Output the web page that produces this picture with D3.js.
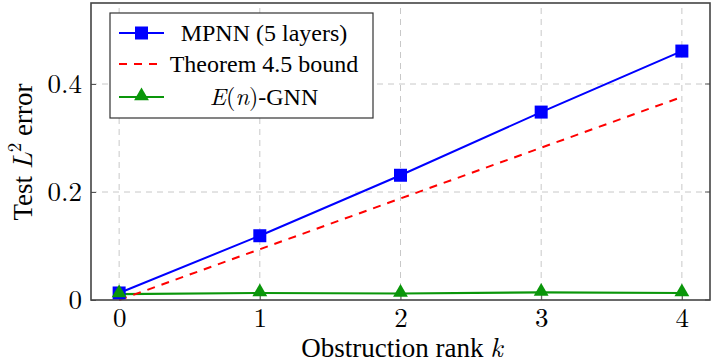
<!DOCTYPE html>
<html>
<head>
<meta charset="utf-8">
<script src="https://cdn.jsdelivr.net/npm/d3@7"></script>
<style>
  body { margin: 0; background: #fff; }
  text { font-family: "Liberation Serif", "Times New Roman", serif; fill: #000; }
  .cm { font-family: "Latin Modern Roman", "Liberation Serif", serif; }
</style>
</head>
<body>
<svg id="chart"></svg>
<script>
const width = 711, height = 364;

// data
const ranks = [0, 1, 2, 3, 4];
const mpnn = [0.013, 0.119, 0.231, 0.348, 0.461];
const bound = [0.0, 0.094, 0.188, 0.282, 0.376];
const egnn = [0.011, 0.013, 0.012, 0.014, 0.013];
const yTicks = [0, 0.2, 0.4];
const legendLabels = ["MPNN (5 layers)", "Theorem 4.5 bound", "E(n)-GNN"];

const margin = {top: 3, right: 1, bottom: 64, left: 91};

const svg = d3.select("#chart")
  .attr("width", width)
  .attr("height", height);

const x = d3.scaleLinear().domain([-0.2, 4.2]).range([margin.left, width - margin.right]);
const y = d3.scaleLinear().domain([0, 0.55]).range([height - margin.bottom, margin.top]);

// grid
svg.append("g")
  .selectAll("line.vg")
  .data(ranks)
  .enter().append("line")
  .attr("x1", d => x(d)).attr("x2", d => x(d))
  .attr("y1", y(0)).attr("y2", y(0.55))
  .attr("stroke", "#c8c8c8").attr("stroke-width", 1)
  .attr("stroke-dasharray", "6,5");

svg.append("g")
  .selectAll("line.hg")
  .data(yTicks.slice(1))
  .enter().append("line")
  .attr("x1", x(-0.2)).attr("x2", x(4.2))
  .attr("y1", d => y(d)).attr("y2", d => y(d))
  .attr("stroke", "#c8c8c8").attr("stroke-width", 1)
  .attr("stroke-dasharray", "6,5");

// axes (ticks inward, labels outside)
const xAxis = svg.append("g")
  .attr("transform", `translate(0, ${y(0)})`)
  .call(d3.axisBottom(x).tickValues(ranks).tickSize(-5).tickFormat(d3.format("d")));
xAxis.select(".domain").remove();
xAxis.selectAll(".tick line").attr("stroke", "#555");
xAxis.selectAll("text").attr("class", "cm").style("font-size", "27px").attr("y", 27).attr("dy", 0);

const yAxis = svg.append("g")
  .attr("transform", `translate(${x(-0.2)}, 0)`)
  .call(d3.axisLeft(y).tickValues(yTicks).tickSize(-5).tickFormat(d => d === 0 ? "0" : d3.format(".1f")(d)));
yAxis.select(".domain").remove();
yAxis.selectAll(".tick line").attr("stroke", "#555");
yAxis.selectAll("text").attr("class", "cm").style("font-size", "27px").attr("x", -9).attr("dy", "0.33em");

// right side ticks
svg.append("g")
  .selectAll("line")
  .data(yTicks)
  .enter().append("line")
  .attr("x1", x(4.2)).attr("x2", x(4.2) - 5)
  .attr("y1", d => y(d)).attr("y2", d => y(d))
  .attr("stroke", "#555");

// series
const line = d3.line().x((d, i) => x(ranks[i])).y(d => y(d));

svg.append("path").datum(egnn)
  .attr("d", line).attr("fill", "none")
  .attr("stroke", "#0a960a").attr("stroke-width", 2.2);

svg.append("path").datum(bound)
  .attr("d", line).attr("fill", "none")
  .attr("stroke", "#ff0000").attr("stroke-width", 2)
  .attr("stroke-dasharray", "8,7");

svg.append("path").datum(mpnn)
  .attr("d", line).attr("fill", "none")
  .attr("stroke", "#0000ff").attr("stroke-width", 2);

svg.append("g").selectAll("rect")
  .data(mpnn).enter().append("rect")
  .attr("x", (d, i) => x(ranks[i]) - 6.5)
  .attr("y", d => y(d) - 6.5)
  .attr("width", 13).attr("height", 13)
  .attr("fill", "#0000ff");

const tri = d3.symbol().type(d3.symbolTriangle).size(95);
svg.append("g").selectAll("path")
  .data(egnn).enter().append("path")
  .attr("d", tri)
  .attr("transform", (d, i) => `translate(${x(ranks[i])}, ${y(d) - 1})`)
  .attr("fill", "#0a960a");

// frame
svg.append("rect")
  .attr("x", x(-0.2)).attr("y", y(0.55))
  .attr("width", x(4.2) - x(-0.2)).attr("height", y(0) - y(0.55))
  .attr("fill", "none").attr("stroke", "#444").attr("stroke-width", 1.6);

// legend
const lg = svg.append("g").attr("transform", "translate(110, 13)");
lg.append("rect")
  .attr("width", 263).attr("height", 105)
  .attr("fill", "#fff").attr("stroke", "#333").attr("stroke-width", 1.2);

const rowY = [20, 51, 84];
const colors = ["#0000ff", "#ff0000", "#0a960a"];
lg.selectAll("line.leg")
  .data(legendLabels).enter().append("line")
  .attr("x1", 9).attr("x2", 54)
  .attr("y1", (d, i) => rowY[i]).attr("y2", (d, i) => rowY[i])
  .attr("stroke", (d, i) => colors[i])
  .attr("stroke-width", 2)
  .attr("stroke-dasharray", (d, i) => i === 1 ? "8,7" : null);

lg.append("rect").attr("x", 25).attr("y", rowY[0] - 6.5).attr("width", 13).attr("height", 13).attr("fill", colors[0]);
lg.append("path").attr("d", tri).attr("transform", `translate(31.5, ${rowY[2] - 1})`).attr("fill", colors[2]);

lg.append("text").attr("x", 154).attr("y", rowY[0]).attr("dy", "0.35em")
  .attr("text-anchor", "middle").style("font-size", "24px").text(legendLabels[0]);
lg.append("text").attr("x", 154).attr("y", rowY[1]).attr("dy", "0.35em")
  .attr("text-anchor", "middle").style("font-size", "24px").text(legendLabels[1]);
const t3 = lg.append("text").attr("x", 154).attr("y", rowY[2]).attr("dy", "0.35em")
  .attr("text-anchor", "middle").style("font-size", "24px");
t3.append("tspan").attr("class", "cm").style("font-style", "italic").text("E");
t3.append("tspan").attr("class", "cm").text("(");
t3.append("tspan").attr("class", "cm").style("font-style", "italic").text("n");
t3.append("tspan").attr("class", "cm").text(")");
t3.append("tspan").text("-GNN");

// axis titles
const yl = svg.append("text")
  .attr("transform", `translate(32, 152) rotate(-90)`)
  .attr("text-anchor", "middle")
  .style("font-size", "27px");
yl.append("tspan").text("Test ");
yl.append("tspan").attr("class", "cm").style("font-style", "italic").text("L");
yl.append("tspan").attr("class", "cm").attr("dy", "-11").style("font-size", "19px").text("2");
yl.append("tspan").attr("dy", "11").text(" error");

const xl = svg.append("text")
  .attr("x", 402).attr("y", 357)
  .attr("text-anchor", "middle")
  .style("font-size", "27px");
xl.append("tspan").text("Obstruction rank ");
xl.append("tspan").attr("class", "cm").style("font-style", "italic").text("k");
</script>
</body>
</html>
